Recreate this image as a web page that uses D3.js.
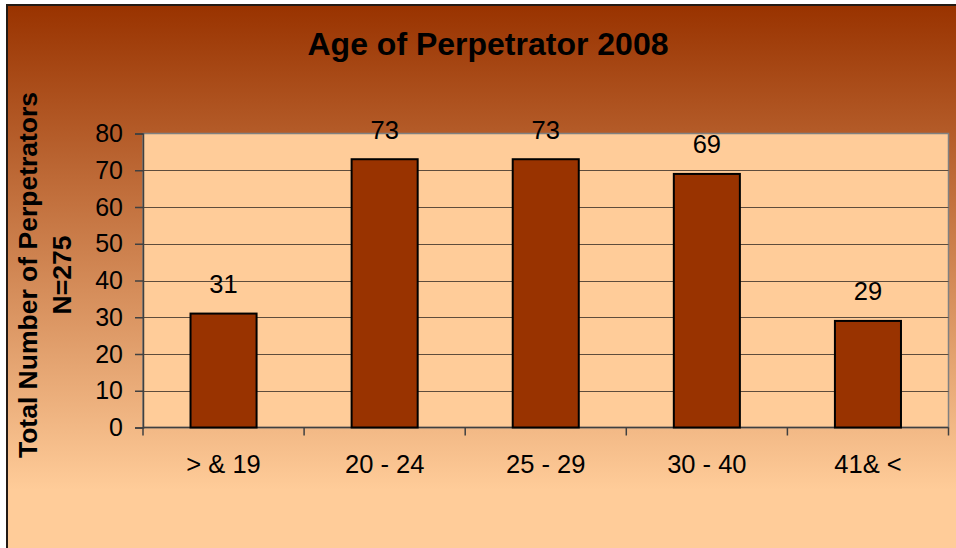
<!DOCTYPE html>
<html>
<head>
<meta charset="utf-8">
<script src="https://cdn.jsdelivr.net/npm/d3@7"></script>
<style>
    html, body { margin: 0; padding: 0; background: #ffffff; }
    svg { display: block; font-family: "Liberation Sans", Arial, sans-serif; }
</style>
</head>
<body>
<svg id="chart" width="956" height="548"></svg>
<script>
    // chart data
    var categories = ['> & 19', '20 - 24', '25 - 29', '30 - 40', '41& <'];
    var perpetrators = [31, 73, 73, 69, 29];
    var yTicks = [0, 10, 20, 30, 40, 50, 60, 70, 80];
    var chartTitle = 'Age of Perpetrator 2008';
    var yTitleLines = ['Total Number of Perpetrators', 'N=275'];

    var svg = d3.select('#chart'),
        width = 956,
        height = 548,
        plot = {left: 143, top: 133.5, right: 948.5, bottom: 427.5};

    // background gradient (dark brown at top to peach)
    var defs = svg.append('defs');
    var grad = defs.append('linearGradient')
        .attr('id', 'bg')
        .attr('gradientUnits', 'userSpaceOnUse')
        .attr('x1', 0).attr('y1', 5)
        .attr('x2', 0).attr('y2', 490);
    grad.append('stop').attr('offset', '0%').attr('stop-color', '#993300');
    grad.append('stop').attr('offset', '100%').attr('stop-color', '#ffcc99');

    svg.append('rect')
        .attr('x', 7).attr('y', 5)
        .attr('width', width).attr('height', height)
        .attr('fill', 'url(#bg)')
        .attr('stroke', '#231a14')
        .attr('stroke-width', 2);

    var x = d3.scaleBand()
        .domain(categories)
        .range([plot.left, plot.right])
        .paddingInner(0.59)
        .paddingOuter(0.295);

    var xEdges = d3.scalePoint()
        .domain(d3.range(categories.length + 1))
        .range([plot.left, plot.right]);

    var y = d3.scaleLinear()
        .domain([0, 80])
        .range([plot.bottom, plot.top]);

    // plot area
    svg.append('rect')
        .attr('x', plot.left).attr('y', plot.top)
        .attr('width', plot.right - plot.left)
        .attr('height', plot.bottom - plot.top)
        .attr('fill', '#ffcc99')
        .attr('stroke', '#808080')
        .attr('stroke-width', 1.5);

    // gridlines
    svg.append('g')
        .selectAll('line')
        .data(yTicks.filter(function (d) { return d > 0 && d < 80; }))
        .enter().append('line')
        .attr('x1', plot.left).attr('x2', plot.right)
        .attr('y1', function (d) { return Math.round(y(d)) + 0.5; })
        .attr('y2', function (d) { return Math.round(y(d)) + 0.5; })
        .attr('stroke', '#5e4c3c')
        .attr('stroke-width', 1);

    // y axis
    var yAxis = svg.append('g')
        .attr('transform', 'translate(' + plot.left + ',0)')
        .call(d3.axisLeft(y).tickValues(yTicks).tickSize(8).tickPadding(12));
    yAxis.select('.domain').attr('stroke', '#404040').attr('stroke-width', 1.5);
    yAxis.selectAll('.tick line').attr('stroke', '#404040').attr('stroke-width', 1.5);
    yAxis.selectAll('.tick text')
        .attr('fill', '#000')
        .style('font-size', '25px')
        .style('font-family', '"Liberation Sans", Arial, sans-serif');

    // x axis: ticks on category boundaries
    var xAxis = svg.append('g');
    xAxis.append('line')
        .attr('x1', plot.left).attr('x2', plot.right)
        .attr('y1', plot.bottom).attr('y2', plot.bottom)
        .attr('stroke', '#404040').attr('stroke-width', 1.5);
    xAxis.selectAll('.edge')
        .data(xEdges.domain())
        .enter().append('line')
        .attr('class', 'edge')
        .attr('x1', function (d) { return xEdges(d); })
        .attr('x2', function (d) { return xEdges(d); })
        .attr('y1', plot.bottom).attr('y2', plot.bottom + 8)
        .attr('stroke', '#404040').attr('stroke-width', 1.5);
    xAxis.selectAll('.cat')
        .data(categories)
        .enter().append('text')
        .attr('class', 'cat')
        .attr('x', function (d) { return x(d) + x.bandwidth() / 2; })
        .attr('y', 473)
        .attr('text-anchor', 'middle')
        .style('font-size', '25.5px')
        .text(function (d) { return d; });

    // bars
    svg.append('g')
        .selectAll('rect')
        .data(perpetrators)
        .enter().append('rect')
        .attr('x', function (d, i) { return x(categories[i]); })
        .attr('y', function (d) { return y(d); })
        .attr('width', x.bandwidth())
        .attr('height', function (d) { return y(0) - y(d); })
        .attr('fill', '#993300')
        .attr('stroke', '#000')
        .attr('stroke-width', 2);

    // value labels
    svg.append('g')
        .selectAll('text')
        .data(perpetrators)
        .enter().append('text')
        .attr('x', function (d, i) { return x(categories[i]) + x.bandwidth() / 2; })
        .attr('y', function (d) { return y(d) - 20.5; })
        .attr('text-anchor', 'middle')
        .style('font-size', '25.5px')
        .text(function (d) { return d; });

    // title
    svg.append('text')
        .attr('x', 488)
        .attr('y', 55)
        .attr('text-anchor', 'middle')
        .style('font-size', '32px')
        .style('font-weight', 'bold')
        .text(chartTitle);

    // y axis title, two lines
    svg.append('g')
        .selectAll('text')
        .data(yTitleLines)
        .enter().append('text')
        .attr('transform', function (d, i) {
            return 'translate(' + (37 + i * 34) + ',275) rotate(-90)';
        })
        .attr('text-anchor', 'middle')
        .style('font-size', '26.5px')
        .style('font-weight', 'bold')
        .text(function (d) { return d; });
</script>
</body>
</html>
